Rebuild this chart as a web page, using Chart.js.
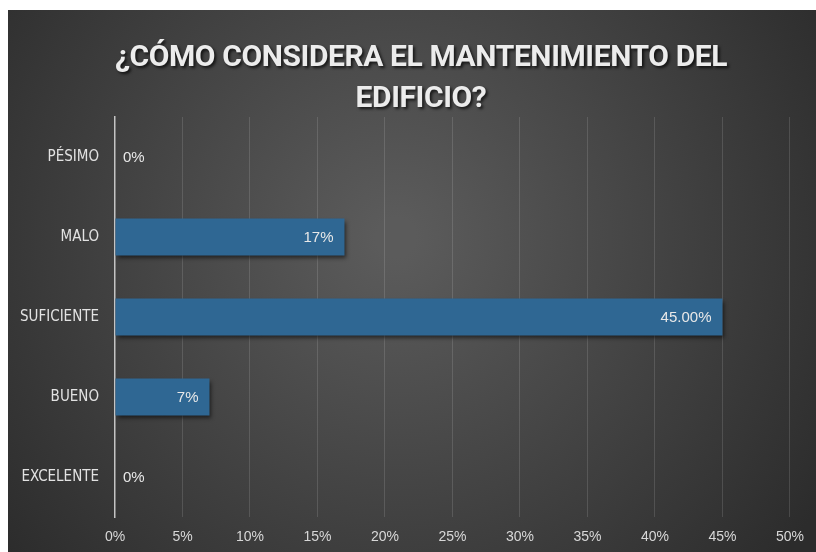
<!DOCTYPE html>
<html>
<head>
<meta charset="utf-8">
<script src="https://cdn.jsdelivr.net/npm/chart.js@4.4.0/dist/chart.umd.min.js"></script>
<style>
  html, body { margin: 0; padding: 0; background: #fff; }
  #wrap { position: absolute; left: 8px; top: 10px; width: 808px; height: 542px; }
</style>
</head>
<body>
<div id="wrap"><canvas id="mantChart"></canvas></div>
<script>
const titleLines = ['¿CÓMO CONSIDERA EL MANTENIMIENTO DEL', 'EDIFICIO?'];
const categories = ['PÉSIMO', 'MALO', 'SUFICIENTE', 'BUENO', 'EXCELENTE'];
const values = [0, 17, 45, 7, 0];
const valueLabels = ['0%', '17%', '45.00%', '7%', '0%'];
const tickValues = [0, 5, 10, 15, 20, 25, 30, 35, 40, 45, 50];

// dark radial background + title with shadow
const backgroundPlugin = {
  id: 'background',
  beforeDraw(chart) {
    const { ctx, width, height } = chart;
    const g = ctx.createRadialGradient(width * 0.48, height * 0.42, 20, width * 0.48, height * 0.42, width * 0.62);
    g.addColorStop(0, '#5b5b5b');
    g.addColorStop(1, '#2c2c2c');
    ctx.save();
    ctx.fillStyle = g;
    ctx.fillRect(0, 0, width, height);
    ctx.restore();
  },
  afterDraw(chart) {
    const ctx = chart.ctx;
    ctx.save();
    ctx.font = 'bold 30px Roboto, "DejaVu Sans"';
    ctx.letterSpacing = '-0.4px';
    ctx.fillStyle = '#ececec';
    ctx.textAlign = 'center';
    ctx.textBaseline = 'middle';
    ctx.shadowColor = 'rgba(0,0,0,0.7)';
    ctx.shadowOffsetX = 2;
    ctx.shadowOffsetY = 2;
    ctx.shadowBlur = 3;
    ctx.fillText(titleLines[0], 413, 48);
    ctx.fillText(titleLines[1], 413, 89);
    ctx.restore();
  }
};

const barShadowPlugin = {
  id: 'barShadow',
  beforeDatasetsDraw(chart) {
    const ctx = chart.ctx;
    ctx.save();
    ctx.shadowColor = 'rgba(0,0,0,0.55)';
    ctx.shadowOffsetX = 2;
    ctx.shadowOffsetY = 3;
    ctx.shadowBlur = 4;
  },
  afterDatasetsDraw(chart) {
    chart.ctx.restore();
  }
};

const valueLabelPlugin = {
  id: 'valueLabels',
  afterDatasetsDraw(chart) {
    const ctx = chart.ctx;
    const meta = chart.getDatasetMeta(0);
    ctx.save();
    ctx.font = '15px "Liberation Sans", Arial';
    ctx.fillStyle = '#e8e8e8';
    ctx.textBaseline = 'middle';
    meta.data.forEach((bar, i) => {
      if (values[i] > 0) {
        ctx.textAlign = 'right';
        ctx.fillText(valueLabels[i], bar.x - 11, bar.y + 1);
      } else {
        ctx.textAlign = 'left';
        ctx.fillText(valueLabels[i], bar.base + 8, bar.y + 1);
      }
    });
    ctx.restore();
  }
};

function barGradient(context) {
  const chart = context.chart;
  const el = context.element;
  if (!el || !chart.chartArea || !Number.isFinite(el.y) || !Number.isFinite(el.height)) return '#2f6793';
  const top = el.y - el.height / 2;
  const g = chart.ctx.createLinearGradient(0, top, 0, top + el.height);
  g.addColorStop(0, '#4380ad');
  g.addColorStop(0.25, '#336d99');
  g.addColorStop(1, '#245579');
  return g;
}

new Chart(document.getElementById('mantChart'), {
  type: 'bar',
  data: {
    labels: categories,
    datasets: [{
      data: values,
      backgroundColor: barGradient,
      borderWidth: 0,
      categoryPercentage: 0.92,
      barPercentage: 0.5
    }]
  },
  options: {
    indexAxis: 'y',
    responsive: true,
    maintainAspectRatio: false,
    animation: false,
    layout: { padding: { top: 107, right: 3, bottom: 0, left: 0 } },
    plugins: {
      legend: { display: false },
      title: { display: false },
      tooltip: { enabled: false }
    },
    scales: {
      x: {
        min: 0,
        max: 50,
        afterFit(scale) { scale.height = 35; },
        afterBuildTicks(scale) { scale.ticks = tickValues.map(v => ({ value: v })); },
        ticks: {
          color: '#d8d8d8',
          font: { size: 14, family: '"Liberation Sans", Arial' },
          padding: 12,
          callback: v => v + '%'
        },
        grid: {
          color: ctx => ctx.tick && ctx.tick.value === 0 ? 'rgba(0,0,0,0)' : 'rgba(255,255,255,0.13)',
          drawTicks: false
        },
        border: { display: false }
      },
      y: {
        afterFit(scale) { scale.width = 107; },
        ticks: {
          color: '#e2e2e2',
          font: { size: 15, family: '"DejaVu Sans Condensed", "Liberation Sans"' },
          padding: 16
        },
        grid: { display: false, drawTicks: false },
        border: { display: true, color: '#c4c4c4', width: 1.5 }
      }
    }
  },
  plugins: [backgroundPlugin, barShadowPlugin, valueLabelPlugin]
});
</script>
</body>
</html>
